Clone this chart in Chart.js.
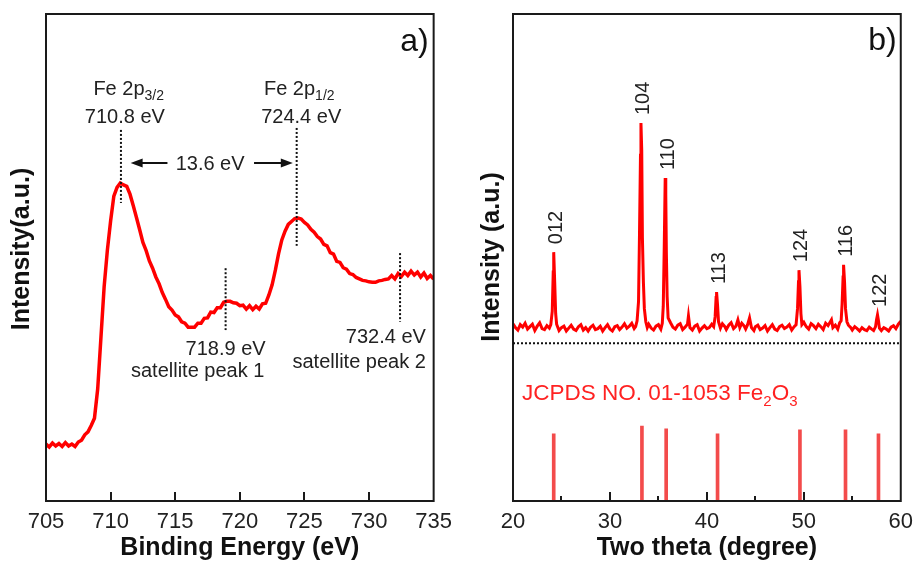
<!DOCTYPE html>
<html lang="en">
<head>
<meta charset="UTF-8">
<title>Fe 2p XPS and XRD of Fe2O3</title>
<script src="https://cdn.jsdelivr.net/npm/chart.js"></script>
<style>
  body { margin: 0; background: #fff; }
  #wrap { position: relative; width: 921px; height: 563px; }
  #xps { position: absolute; left: 0; top: 0; }
  #xrd { position: absolute; left: 460px; top: 0; }
</style>
</head>
<body>
<div id="wrap">
  <canvas id="xps" width="460" height="563"></canvas>
  <canvas id="xrd" width="461" height="563"></canvas>
</div>
<script>
// ---- a) Fe 2p XPS spectrum ----
const xpsEnergy = [
  705.00,705.25,705.50,705.75,706.00,706.25,706.50,706.75,707.00,707.25,707.50,707.75,
  708.00,708.25,708.50,708.75,709.00,709.25,709.50,709.75,710.00,710.25,710.50,710.75,
  711.00,711.25,711.50,711.75,712.00,712.25,712.50,712.75,713.00,713.25,713.50,713.75,
  714.00,714.25,714.50,714.75,715.00,715.25,715.50,715.75,716.00,716.25,716.50,716.75,
  717.00,717.25,717.50,717.75,718.00,718.25,718.50,718.75,719.00,719.25,719.50,719.75,
  720.00,720.25,720.50,720.75,721.00,721.25,721.50,721.75,722.00,722.25,722.50,722.75,
  723.00,723.25,723.50,723.75,724.00,724.25,724.50,724.75,725.00,725.25,725.50,725.75,
  726.00,726.25,726.50,726.75,727.00,727.25,727.50,727.75,728.00,728.25,728.50,728.75,
  729.00,729.25,729.50,729.75,730.00,730.25,730.50,730.75,731.00,731.25,731.50,731.75,
  732.00,732.25,732.50,732.75,733.00,733.25,733.50,733.75,734.00,734.25,734.50,734.75,
  735.00
];
const xpsIntensity = [
  11.7,11.1,11.9,11.3,11.8,11.2,12.0,11.3,11.7,11.2,12.1,12.5,
  13.6,14.2,15.5,17.0,23.0,33.5,44.0,51.5,57.5,62.6,64.4,65.3,
  64.9,64.6,63.0,60.7,58.2,55.7,53.1,51.4,49.3,47.8,46.0,44.6,
  42.8,41.4,39.9,39.2,38.2,37.8,36.8,36.5,35.7,35.7,35.7,36.5,
  36.5,37.5,37.6,38.8,38.7,39.7,39.7,40.8,41.0,41.0,40.7,40.6,
  40.1,40.2,39.4,40.1,39.3,40.0,39.4,40.5,40.6,42.3,44.4,47.4,
  50.8,53.6,55.4,56.8,57.4,58.0,58.1,57.9,57.2,56.7,55.8,55.2,
  54.3,53.8,52.7,52.4,51.0,50.7,49.2,49.0,47.9,47.6,46.7,46.5,
  45.9,45.6,45.3,45.2,45.0,44.9,44.9,45.2,45.3,45.5,45.6,46.3,
  45.6,46.7,46.1,47.0,46.3,47.2,46.4,47.0,46.0,46.8,45.7,46.3,
  45.6
];
// marked binding energies (eV): Fe 2p3/2, Fe 2p1/2, satellite 1, satellite 2
const xpsMarkEnergy = [710.8, 724.4, 718.9, 732.4];

// ---- b) XRD pattern ----
const xrdTheta = [
  20.0,20.25,20.5,20.75,21.0,21.25,21.5,21.75,22.0,22.25,22.5,22.75,23.0,23.25,
  23.5,23.75,23.9,24.05,24.15,24.2,24.3,24.4,24.5,24.75,25.0,25.25,25.5,25.75,
  26.0,26.25,26.5,26.75,27.0,27.25,27.5,27.75,28.0,28.25,28.5,28.75,29.0,29.25,
  29.5,29.75,30.0,30.25,30.5,30.75,31.0,31.25,31.5,31.75,32.0,32.25,32.5,32.65,
  32.8,32.95,33.05,33.15,33.2,33.28,33.35,33.45,33.55,33.7,33.85,34.0,34.25,34.5,
  34.75,35.0,35.25,35.4,35.5,35.6,35.7,35.76,35.82,35.9,36.0,36.25,36.5,36.75,
  37.0,37.25,37.5,37.75,38.0,38.1,38.25,38.5,38.75,39.0,39.25,39.5,39.75,40.0,
  40.25,40.5,40.7,40.85,40.95,41.0,41.1,41.2,41.4,41.6,41.85,42.0,42.25,42.5,
  42.75,43.0,43.2,43.4,43.6,43.85,44.0,44.2,44.4,44.6,44.85,45.0,45.25,45.5,
  45.75,46.0,46.25,46.5,46.75,47.0,47.25,47.5,47.75,48.0,48.25,48.5,48.75,49.0,
  49.2,49.35,49.45,49.5,49.6,49.7,49.8,50.0,50.25,50.5,50.75,51.0,51.25,51.5,
  51.75,52.0,52.25,52.5,52.85,53.0,53.25,53.5,53.7,53.85,53.95,54.05,54.1,54.2,
  54.3,54.45,54.6,54.85,55.0,55.25,55.5,55.75,56.0,56.25,56.5,56.75,57.0,57.2,
  57.4,57.5,57.6,57.7,57.8,58.0,58.25,58.5,58.75,59.0,59.25,59.5,59.75,60.0
];
const xrdCounts = [
  36.4,35.6,35.1,36.2,35.7,36.5,35.3,35.8,36.3,35.0,35.9,36.6,35.4,35.2,
  36.0,35.5,36.2,39.0,47.0,51.1,45.0,38.5,36.3,35.0,35.6,35.9,34.9,35.5,
  36.1,35.3,35.0,35.8,36.2,35.1,35.6,34.9,35.7,36.1,35.2,35.4,35.9,34.9,
  35.6,36.2,35.3,34.9,35.8,36.0,35.2,35.7,36.4,35.5,35.9,36.5,35.4,35.8,
  37.0,41.0,55.0,71.0,77.6,72.0,54.0,45.0,39.5,36.8,35.6,36.3,35.5,35.1,
  35.9,36.2,35.3,36.5,40.0,52.0,66.3,63.0,51.0,42.0,37.6,36.6,35.7,35.3,
  36.1,36.4,35.2,35.7,36.3,38.0,35.6,35.1,35.9,36.2,34.9,35.5,36.0,35.4,
  35.6,36.3,35.8,37.8,41.8,42.9,40.2,36.8,35.5,36.4,35.8,35.2,36.1,36.6,
  35.4,35.9,37.2,35.6,36.5,35.9,35.3,36.2,37.6,35.6,35.0,35.8,36.1,35.2,
  35.5,36.0,34.9,35.6,36.2,35.3,35.0,35.8,36.1,35.4,35.7,36.2,35.1,35.8,
  36.2,39.5,45.0,47.4,44.0,38.5,36.2,36.7,35.8,35.3,36.4,36.0,35.4,36.3,
  35.8,35.2,36.5,36.0,37.2,35.6,36.1,35.3,36.6,37.0,40.5,46.0,48.5,45.0,
  39.5,36.8,36.1,35.6,35.1,35.8,35.4,34.9,35.6,35.2,35.0,35.7,35.3,35.0,
  35.8,37.2,38.2,37.0,35.5,35.0,35.6,35.3,34.9,35.7,36.0,35.4,36.3,36.9
];
// indexed reflections and where they sit in the scan
const hklLabels = ['012', '104', '110', '113', '124', '116', '122'];
const hklTheta = [24.2, 33.2, 35.7, 41.0, 49.5, 54.1, 57.6];
// JCPDS 01-1053 reference lines
const refTheta = [24.2, 33.3, 35.8, 41.1, 49.6, 54.3, 57.7];
const refIntensity = [13.8, 15.4, 14.8, 13.8, 14.6, 14.6, 13.8];

const FONT = '"Liberation Sans", Arial, sans-serif';
const INK = '#222';
const RED = '#ff0000';

function xAxis(min, max, step, title) {
  return {
    type: 'linear', min: min, max: max, offset: false,
    ticks: { stepSize: step, color: INK, font: { family: FONT, size: 22 }, padding: 8, maxRotation: 0 },
    grid: { display: false, drawTicks: false },
    border: { display: false },
    title: { display: true, text: title, color: '#111', font: { family: FONT, size: 25, weight: 'bold' }, padding: { top: 0, bottom: 0 } },
    afterFit: function (scale) { scale.height = 62; }
  };
}

// box around the plot plus inward tick marks
const frame = {
  id: 'frame',
  afterDraw(chart, args, opts) {
    const { ctx, chartArea: a } = chart;
    const x = chart.scales.x;
    const step = x.options.ticks.stepSize;
    ctx.save();
    ctx.fillStyle = '#1a1a1a';
    const n = Math.round((x.max - x.min) / step) * 2;
    for (let i = 1; i < n; i++) {
      const major = i % 2 === 0;
      if (!major && !opts.minor) continue;
      const px = Math.round(x.getPixelForValue(x.min + i * step / 2));
      const len = major ? 9 : 5;
      ctx.fillRect(px - 1, a.bottom - len, 2, len);
    }
    ctx.strokeStyle = '#1a1a1a';
    ctx.lineWidth = 2;
    ctx.strokeRect(a.left, a.top, a.right - a.left, a.bottom - a.top);
    ctx.restore();
  }
};

function yTitle(ctx, text, cx, cy) {
  ctx.save();
  ctx.translate(cx, cy);
  ctx.rotate(-Math.PI / 2);
  ctx.font = 'bold 25px ' + FONT;
  ctx.fillStyle = '#111';
  ctx.textAlign = 'center';
  ctx.textBaseline = 'middle';
  ctx.fillText(text, 0, 0);
  ctx.restore();
}

// text with subscripts, parts = [[text, isSub], ...]
function richText(ctx, parts, x, y, size, align) {
  const sub = Math.round(size * 0.68);
  let w = 0;
  parts.forEach(p => { ctx.font = (p[1] ? sub : size) + 'px ' + FONT; w += ctx.measureText(p[0]).width; });
  let cx = align === 'center' ? x - w / 2 : align === 'right' ? x - w : x;
  ctx.textAlign = 'left';
  ctx.textBaseline = 'alphabetic';
  parts.forEach(p => {
    ctx.font = (p[1] ? sub : size) + 'px ' + FONT;
    ctx.fillText(p[0], cx, p[1] ? y + size * 0.25 : y);
    cx += ctx.measureText(p[0]).width;
  });
}

function dotted(ctx, x0, y0, x1, y1) {
  ctx.beginPath();
  ctx.moveTo(x0, y0);
  ctx.lineTo(x1, y1);
  ctx.stroke();
}

function arrow(ctx, x0, x1, y) {
  const d = Math.sign(x1 - x0);
  ctx.beginPath();
  ctx.moveTo(x0, y);
  ctx.lineTo(x1 - d * 6, y);
  ctx.stroke();
  ctx.beginPath();
  ctx.moveTo(x1, y);
  ctx.lineTo(x1 - d * 12, y - 4.5);
  ctx.lineTo(x1 - d * 12, y + 4.5);
  ctx.closePath();
  ctx.fill();
}

const xpsNotes = {
  id: 'xpsNotes',
  afterDraw(chart) {
    const { ctx, chartArea: a } = chart;
    const X = v => chart.scales.x.getPixelForValue(v);
    const Y = v => chart.scales.y.getPixelForValue(v);
    ctx.save();
    // peak markers
    ctx.strokeStyle = '#111';
    ctx.lineWidth = 2;
    ctx.setLineDash([2, 2]);
    const spans = [[76.2, 61.2], [76.6, 52.4], [47.8, 35.1], [50.9, 36.8]];
    xpsMarkEnergy.forEach((e, i) => dotted(ctx, X(e), Y(spans[i][0]), X(e), Y(spans[i][1])));
    ctx.setLineDash([]);
    // spin-orbit splitting
    ctx.fillStyle = '#111';
    arrow(ctx, X(714.4), X(711.55), Y(69.4));
    arrow(ctx, X(721.1), X(724.1), Y(69.4));
    ctx.fillStyle = INK;
    const split = (xpsMarkEnergy[1] - xpsMarkEnergy[0]).toFixed(1);
    richText(ctx, [[split + ' eV', false]], X(717.7), Y(68.0), 20, 'center');
    richText(ctx, [['Fe 2p', false], ['3/2', true]], X(711.4), Y(83.4), 20, 'center');
    richText(ctx, [[xpsMarkEnergy[0].toFixed(1) + ' eV', false]], X(711.1), Y(77.6), 20, 'center');
    richText(ctx, [['Fe 2p', false], ['1/2', true]], X(724.6), Y(83.4), 20, 'center');
    richText(ctx, [[xpsMarkEnergy[1].toFixed(1) + ' eV', false]], X(724.75), Y(77.6), 20, 'center');
    richText(ctx, [[xpsMarkEnergy[2].toFixed(1) + ' eV', false]], X(722.0), Y(30.0), 20, 'right');
    richText(ctx, [['satellite peak 1', false]], X(721.9), Y(25.5), 20, 'right');
    richText(ctx, [[xpsMarkEnergy[3].toFixed(1) + ' eV', false]], X(734.4), Y(32.4), 20, 'right');
    richText(ctx, [['satellite peak 2', false]], X(734.4), Y(27.3), 20, 'right');
    ctx.font = '32px ' + FONT;
    ctx.fillStyle = '#111';
    ctx.textAlign = 'right';
    ctx.fillText('a)', a.right - 5, 51);
    yTitle(ctx, 'Intensity(a.u.)', 22, 249);
    ctx.restore();
  }
};

const xrdNotes = {
  id: 'xrdNotes',
  afterDraw(chart) {
    const { ctx, chartArea: a } = chart;
    const X = v => chart.scales.x.getPixelForValue(v);
    const Y = v => chart.scales.y.getPixelForValue(v);
    ctx.save();
    // separator between the scan and the reference card
    ctx.strokeStyle = '#111';
    ctx.lineWidth = 2;
    ctx.setLineDash([2, 2]);
    dotted(ctx, a.left, Y(32.4), a.right, Y(32.4));
    ctx.setLineDash([]);
    // hkl labels above each reflection
    ctx.fillStyle = INK;
    ctx.font = '20px ' + FONT;
    ctx.textAlign = 'left';
    ctx.textBaseline = 'middle';
    hklLabels.forEach((lab, i) => {
      const top = xrdCounts[xrdTheta.indexOf(hklTheta[i])];
      ctx.save();
      ctx.translate(X(hklTheta[i]) + 3, Y(top) - 8);
      ctx.rotate(-Math.PI / 2);
      ctx.fillText(lab, 0, 0);
      ctx.restore();
    });
    ctx.fillStyle = '#f22';
    richText(ctx, [['JCPDS NO. 01-1053 Fe', false], ['2', true], ['O', false], ['3', true]], a.left + 9, 400, 22.5, 'left');
    ctx.font = '32px ' + FONT;
    ctx.fillStyle = '#111';
    ctx.textAlign = 'right';
    ctx.textBaseline = 'alphabetic';
    ctx.fillText('b)', a.right - 4, 50);
    yTitle(ctx, 'Intensity (a.u.)', 32, 257);
    ctx.restore();
  }
};

const common = {
  responsive: false,
  animation: false,
  devicePixelRatio: 1,
  elements: { point: { radius: 0 } }
};

new Chart(document.getElementById('xps'), {
  type: 'line',
  data: {
    datasets: [{
      data: xpsEnergy.map((e, i) => ({ x: e, y: xpsIntensity[i] })),
      borderColor: RED, borderWidth: 3.5, tension: 0, fill: false
    }]
  },
  options: Object.assign({}, common, {
    plugins: { legend: { display: false }, tooltip: { enabled: false }, frame: { minor: false } },
    layout: { padding: { left: 46, right: 19, top: 14, bottom: 0 } },
    scales: {
      x: xAxis(705, 735, 5, 'Binding Energy (eV)'),
      y: { display: false, min: 0, max: 100 }
    }
  }),
  plugins: [frame, xpsNotes]
});

new Chart(document.getElementById('xrd'), {
  type: 'line',
  data: {
    datasets: [{
      data: xrdTheta.map((t, i) => ({ x: t, y: xrdCounts[i] })),
      borderColor: RED, borderWidth: 3, tension: 0, fill: false
    }, {
      type: 'bar',
      data: refTheta.map((t, i) => ({ x: t, y: refIntensity[i] })),
      backgroundColor: '#f34b4b', borderWidth: 0, barThickness: 3, grouped: false
    }]
  },
  options: Object.assign({}, common, {
    plugins: { legend: { display: false }, tooltip: { enabled: false }, frame: { minor: true } },
    layout: { padding: { left: 53, right: 14, top: 14, bottom: 0 } },
    scales: {
      x: xAxis(20, 60, 10, 'Two theta (degree)'),
      y: { display: false, min: 0, max: 100 }
    }
  }),
  plugins: [frame, xrdNotes]
});
</script>
</body>
</html>
